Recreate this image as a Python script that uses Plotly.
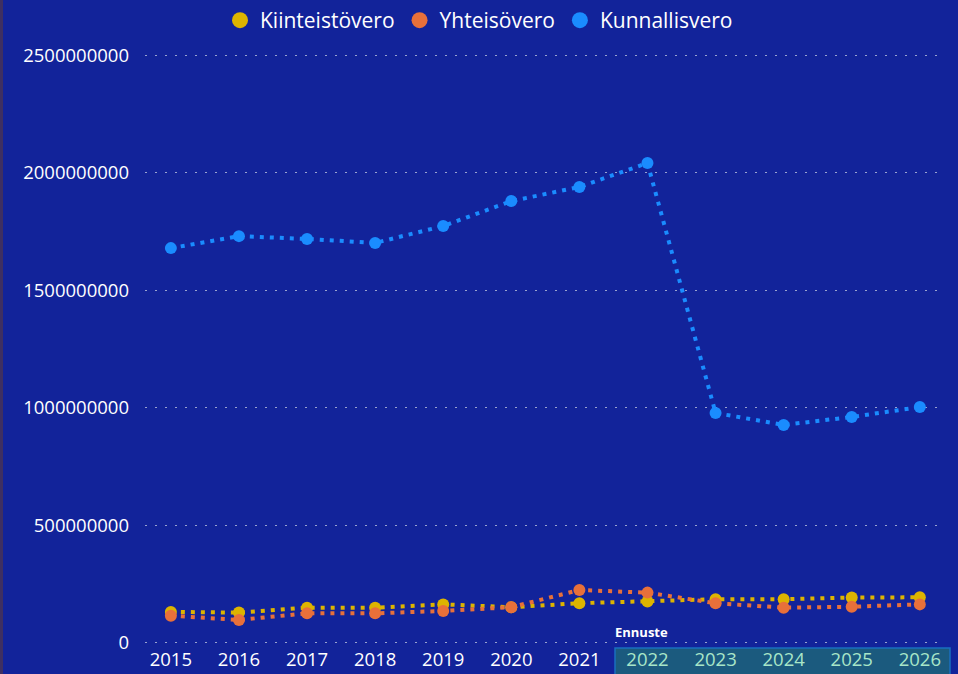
import plotly.graph_objects as go

years = ["2015", "2016", "2017", "2018", "2019", "2020", "2021", "2022", "2023", "2024", "2025", "2026"]
forecast_years = ["2022", "2023", "2024", "2025", "2026"]
kiinteistovero = [132e6, 129e6, 150e6, 150e6, 164e6, 152e6, 169e6, 176e6, 186e6, 186e6, 193e6, 194e6]
yhteisovero = [116e6, 98e6, 126e6, 126e6, 136e6, 152e6, 225e6, 214e6, 169e6, 150e6, 154e6, 164e6]
kunnallisvero = [1679e6, 1730e6, 1718e6, 1701e6, 1773e6, 1879e6, 1939e6, 2041e6, 978e6, 927e6, 961e6, 1003e6]
y_ticks = [0, 500000000, 1000000000, 1500000000, 2000000000, 2500000000]

BG = "#12239A"
FONT = "Open Sans"

series = [
    ("Kiinteistövero", kiinteistovero, "#DDB400"),
    ("Yhteisövero", yhteisovero, "#E8703A"),
    ("Kunnallisvero", kunnallisvero, "#1A8CFF"),
]

fig = go.Figure()
for name, vals, col in series:
    fig.add_trace(go.Scatter(
        x=years, y=vals, name=name, mode="lines+markers", showlegend=False,
        line=dict(color=col, width=4, dash="4px,6px"),
        marker=dict(color=col, size=12),
    ))
# legend entries (circle only)
for name, vals, col in series:
    fig.add_trace(go.Scatter(
        x=[None], y=[None], name=name, mode="markers",
        marker=dict(color=col, size=17), showlegend=True,
    ))

ticktext = [
    f'<span style="color:#A8E6C8">{y}</span>' if y in forecast_years else y
    for y in years
]

PLOT_BOTTOM = 646
PLOT_H = 594

fig.update_layout(
    width=958, height=674,
    paper_bgcolor=BG, plot_bgcolor=BG,
    margin=dict(l=145, r=13, t=52, b=28, autoexpand=False),
    font=dict(family=FONT, color="white", size=18),
    showlegend=True,
    legend=dict(orientation="h", x=0.5, xanchor="center", xref="container",
                y=1.0, yanchor="top", yref="container",
                font=dict(size=21, color="white"),
                itemsizing="trace", itemwidth=30, tracegroupgap=0,
                bgcolor="rgba(0,0,0,0)"),
    hovermode=False,
    xaxis=dict(type="category", range=[-0.38, 11.37], tickmode="array",
               tickvals=years, ticktext=ticktext, showgrid=False, zeroline=False,
               showline=False, ticks="", automargin=False,
               tickfont=dict(size=18.5, color="white")),
    yaxis=dict(range=[-13e6, 2.513e9], tickmode="array", tickvals=y_ticks,
               ticktext=[str(v) for v in y_ticks], showgrid=True,
               gridcolor="#9AA3D0", griddash="2px,8px", gridwidth=1,
               zeroline=False, showline=False, ticklabelstandoff=15,
               automargin=False, tickfont=dict(size=18.5, color="white")),
)

# forecast box behind x tick labels
fig.add_shape(type="rect", xref="paper", yref="paper",
              x0=(615 - 145) / 800, x1=(950 - 145) / 800,
              y0=-(678 - PLOT_BOTTOM) / PLOT_H, y1=-(648 - PLOT_BOTTOM) / PLOT_H,
              fillcolor="#1B5A7E", line=dict(color="#1A6FC0", width=1.5),
              layer="below")
fig.add_annotation(text="<b>Ennuste</b>", xref="paper", yref="paper",
                   x=(641 - 145) / 800, y=(PLOT_BOTTOM - 632) / PLOT_H, showarrow=False,
                   font=dict(size=13, color="white", family=FONT),
                   xanchor="center", yanchor="middle")
# left edge strip
fig.add_shape(type="rect", xref="paper", yref="paper",
              x0=-145 / 800, x1=-142 / 800, y0=-0.1, y1=1.2,
              fillcolor="#3E2F62", line=dict(width=0), layer="below")

fig.write_html("out.html", config={"displayModeBar": False},
               post_script="document.body.style.margin='0';document.body.style.overflow='hidden';")
